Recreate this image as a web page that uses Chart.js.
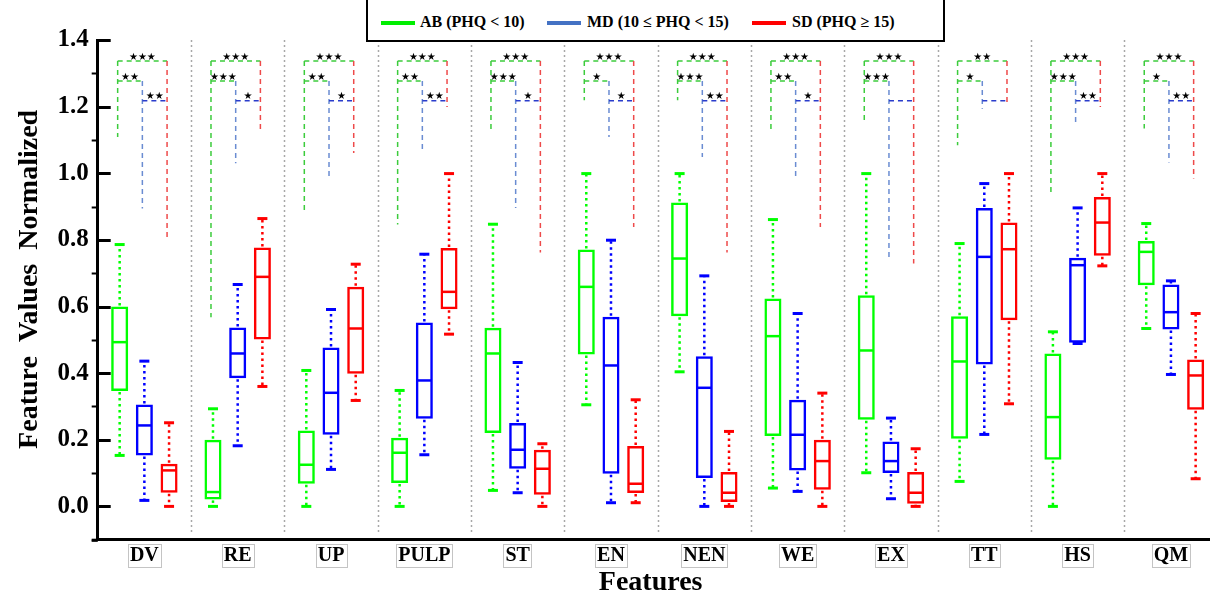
<!DOCTYPE html>
<html><head><meta charset="utf-8">
<script src="https://cdn.jsdelivr.net/npm/chart.js@4.4.1/dist/chart.umd.min.js"></script>
<style>
html,body{margin:0;padding:0;overflow:hidden;background:#fff;}
#wrap{position:relative;width:1230px;height:600px;}
#legend{position:absolute;left:366px;top:-3px;width:579px;height:45px;border:2.5px solid #000;box-sizing:border-box;background:#fff;font-family:"Liberation Serif",serif;font-weight:bold;font-size:16px;color:#000;}
#legend .ln{position:absolute;top:22px;height:4px;width:34px;}
#legend .tx{position:absolute;top:13px;white-space:nowrap;line-height:20px;}
</style></head><body>
<div id="wrap"><canvas id="c"></canvas>
<div id="legend">
<div class="ln" style="left:13px;background:#00ee00"></div><div class="tx" style="left:52px">AB (PHQ &lt; 10)</div>
<div class="ln" style="left:179px;background:#4472c4"></div><div class="tx" style="left:219px">MD (10 ≤ PHQ &lt; 15)</div>
<div class="ln" style="left:384px;background:#ff0000"></div><div class="tx" style="left:424px">SD (PHQ ≥ 15)</div>
</div></div>
<script>
const categories = ['DV','RE','UP','PULP','ST','EN','NEN','WE','EX','TT','HS','QM'];
const seriesLabels = ['AB (PHQ < 10)','MD (10 ≤ PHQ < 15)','SD (PHQ ≥ 15)'];
// AB group
const abMin = [0.153,0.000,0.000,0.000,0.048,0.305,0.404,0.055,0.101,0.075,0.000,0.534];
const abQ1  = [0.346,0.021,0.068,0.070,0.220,0.456,0.571,0.211,0.260,0.203,0.140,0.664];
const abMed = [0.493,0.043,0.125,0.161,0.459,0.659,0.744,0.511,0.468,0.435,0.268,0.764];
const abQ3  = [0.600,0.200,0.228,0.206,0.536,0.771,0.912,0.624,0.634,0.571,0.459,0.797];
const abMax = [0.786,0.293,0.408,0.348,0.847,0.999,0.999,0.861,0.999,0.789,0.524,0.849];
// MD group
const mdMin = [0.018,0.182,0.111,0.155,0.041,0.011,0.000,0.045,0.023,0.216,0.489,0.396];
const mdQ1  = [0.153,0.385,0.215,0.263,0.113,0.098,0.085,0.108,0.100,0.426,0.491,0.531];
const mdMed = [0.243,0.459,0.341,0.378,0.170,0.423,0.356,0.215,0.136,0.749,0.724,0.583];
const mdQ3  = [0.306,0.537,0.477,0.552,0.250,0.569,0.451,0.320,0.195,0.896,0.746,0.666];
const mdMax = [0.436,0.666,0.591,0.757,0.432,0.799,0.692,0.579,0.265,0.969,0.896,0.677];
// SD group
const sdMin = [0.000,0.360,0.318,0.517,0.000,0.011,0.000,0.000,0.000,0.308,0.722,0.083];
const sdQ1  = [0.041,0.501,0.398,0.592,0.035,0.040,0.013,0.050,0.008,0.559,0.752,0.290];
const sdMed = [0.108,0.689,0.534,0.644,0.113,0.068,0.041,0.136,0.041,0.772,0.852,0.393];
const sdQ3  = [0.128,0.777,0.659,0.776,0.170,0.181,0.103,0.200,0.103,0.852,0.929,0.441];
const sdMax = [0.251,0.864,0.727,0.999,0.188,0.320,0.225,0.340,0.173,0.999,0.999,0.579];
// significance brackets: levels and lower ends of legs
const bracketLevels = [1.337,1.277,1.218];
const legEndAB = [1.109,0.568,0.881,0.846,1.131,1.219,1.219,1.131,1.156,1.084,0.937,1.134];
const legEndMD = [0.894,1.030,0.984,1.069,0.896,1.109,1.049,0.984,0.746,1.194,1.154,1.032];
const legEndSD = [0.800,1.124,1.061,1.199,0.762,0.839,0.762,0.839,0.729,1.204,1.199,0.984];
const sigABvsSD = ['***','***','***','***','***','***','***','***','***','**','***','***'];
const sigABvsMD = ['**','***','**','**','***','*','***','**','***','*','***','*'];
const sigMDvsSD = ['**','*','*','**','*','*','**','*','','','**','**'];
const yTickLabels = ['0.0','0.2','0.4','0.6','0.8','1.0','1.2','1.4'];

const colors = ['#00ff00','#0000ff','#ff0000'];
const stats = [
  {min:abMin,q1:abQ1,med:abMed,q3:abQ3,max:abMax},
  {min:mdMin,q1:mdQ1,med:mdMed,q3:mdQ3,max:mdMax},
  {min:sdMin,q1:sdQ1,med:sdMed,q3:sdQ3,max:sdMax}
];
const serif = '"Liberation Serif", "Times New Roman", serif';

const decor = {
  id:'decor',
  beforeDatasetsDraw(chart){
    const {ctx, scales:{x,y}} = chart;
    ctx.save();
    // category separators
    ctx.strokeStyle='#a8a8a8'; ctx.lineWidth=1.5; ctx.setLineDash([2,3]);
    for(let i=1;i<=categories.length;i++){
      const px=Math.round(x.getPixelForValue(i-0.5))+0.5;
      ctx.beginPath(); ctx.moveTo(px,y.getPixelForValue(1.4)); ctx.lineTo(px,y.getPixelForValue(-0.08)); ctx.stroke();
    }
    // brackets
    ctx.lineWidth=1.5; ctx.setLineDash([5,4]);
    const m0=chart.getDatasetMeta(0), m1=chart.getDatasetMeta(1), m2=chart.getDatasetMeta(2);
    const yT=y.getPixelForValue(bracketLevels[0]), yM=y.getPixelForValue(bracketLevels[1]), yB=y.getPixelForValue(bracketLevels[2]);
    const seg=(c,x1,y1,x2,y2)=>{ctx.strokeStyle=c;ctx.beginPath();ctx.moveTo(x1,y1);ctx.lineTo(x2,y2);ctx.stroke();};
    for(let i=0;i<categories.length;i++){
      const gx=m0.data[i].x-2, bx=m1.data[i].x-2, rx=m2.data[i].x-2;
      seg('#3ccc3c',gx,yT,rx,yT);
      seg('#3ccc3c',gx,yT,gx,y.getPixelForValue(legEndAB[i]));
      seg('#3ccc3c',gx,yM,bx,yM);
      seg('#ee4a4a',rx,yT,rx,y.getPixelForValue(legEndSD[i]));
      seg('#6a8cd2',bx,yM,bx,y.getPixelForValue(legEndMD[i]));
      seg('#2a3ccc',bx,yB,rx,yB);
    }
    ctx.setLineDash([]);
    ctx.fillStyle='#000'; ctx.font='10px "DejaVu Sans"'; ctx.textAlign='center'; ctx.textBaseline='middle';
    const star=s=>s.replace(/\*/g,'★');
    for(let i=0;i<categories.length;i++){
      const gx=m0.data[i].x-2, bx=m1.data[i].x-2, rx=m2.data[i].x-2;
      ctx.fillText(star(sigABvsSD[i]),(gx+rx)/2,yT-4);
      ctx.fillText(star(sigABvsMD[i]),(gx+bx)/2,yM-4);
      ctx.fillText(star(sigMDvsSD[i]),(bx+rx)/2,yB-4);
    }
    ctx.restore();
  },
  afterDatasetsDraw(chart){
    const {ctx, scales:{y}} = chart;
    ctx.save();
    stats.forEach((s,d)=>{
      const meta=chart.getDatasetMeta(d);
      ctx.strokeStyle=colors[d];
      meta.data.forEach((el,i)=>{
        const cx=el.x, w=el.width;
        const pMed=y.getPixelForValue(s.med[i]), pQ1=y.getPixelForValue(s.q1[i]), pQ3=y.getPixelForValue(s.q3[i]);
        const pMin=y.getPixelForValue(s.min[i]), pMax=y.getPixelForValue(s.max[i]);
        ctx.setLineDash([]); ctx.lineWidth=2.5;
        ctx.beginPath(); ctx.moveTo(cx-w/2+1,pMed); ctx.lineTo(cx+w/2-1,pMed); ctx.stroke();
        ctx.setLineDash([2.5,3.5]); ctx.lineWidth=2.5;
        ctx.beginPath(); ctx.moveTo(cx,pQ3-1); ctx.lineTo(cx,pMax); ctx.stroke();
        ctx.beginPath(); ctx.moveTo(cx,pQ1+1); ctx.lineTo(cx,pMin); ctx.stroke();
        ctx.setLineDash([]); ctx.lineWidth=3;
        ctx.beginPath(); ctx.moveTo(cx-5,pMax); ctx.lineTo(cx+5,pMax); ctx.stroke();
        ctx.beginPath(); ctx.moveTo(cx-5,pMin); ctx.lineTo(cx+5,pMin); ctx.stroke();
      });
    });
    ctx.restore();
  },
  afterDraw(chart){
    const {ctx, chartArea, scales:{x,y}} = chart;
    ctx.save();
    const ax=chartArea.left;
    ctx.strokeStyle='#000';
    for(let k=-1;k<=14;k++){
      const py=Math.round(y.getPixelForValue(k/10))+0.5;
      ctx.beginPath();
      if(k%2===0){ctx.lineWidth=3; ctx.moveTo(ax,py); ctx.lineTo(ax+13,py);}
      else {ctx.lineWidth=2; ctx.moveTo(ax-6,py); ctx.lineTo(ax,py);}
      ctx.stroke();
    }
    // extend x axis line slightly left
    ctx.lineWidth=3; ctx.beginPath(); ctx.moveTo(ax-6,chartArea.bottom+0.5); ctx.lineTo(ax,chartArea.bottom+0.5); ctx.stroke();
    // boxes around x tick labels
    ctx.font='bold 20px '+serif; ctx.strokeStyle='#c4c4c4'; ctx.lineWidth=1;
    const cy=chartArea.bottom+4+12;
    categories.forEach((c,i)=>{
      const px=x.getPixelForTick(i); const w=ctx.measureText(c).width;
      ctx.strokeRect(Math.round(px-w/2-2)+0.5, Math.round(cy-11.5)+0.5, Math.round(w+4), 23);
    });
    ctx.restore();
  }
};

new Chart(document.getElementById('c'),{
  type:'bar',
  data:{
    labels:categories,
    datasets:stats.map((s,d)=>({
      label:seriesLabels[d],
      data:s.q1.map((v,i)=>[v,s.q3[i]]),
      backgroundColor:'rgba(255,255,255,0)',
      borderColor:colors[d], borderWidth:2.5, borderSkipped:false,
      categoryPercentage:0.794, barPercentage:0.69
    }))
  },
  options:{
    responsive:true, maintainAspectRatio:false, animation:false,
    layout:{padding:{top:40,right:12.4,bottom:0,left:0}},
    plugins:{legend:{display:false},tooltip:{enabled:false}},
    scales:{
      x:{type:'category',offset:true,
        afterFit(s){s.height=60.3;},
        grid:{display:false,drawTicks:false},
        border:{display:true,color:'#000',width:3},
        ticks:{padding:4,color:'#000',maxRotation:0,autoSkip:false,font:{family:serif,weight:'bold',size:20,lineHeight:1.2}},
        title:{display:true,text:'Features  ',color:'#000',font:{family:serif,weight:'bold',size:28,lineHeight:1.2},padding:{top:0,bottom:0}}
      },
      y:{min:-0.1,max:1.4,
        afterFit(s){s.width=97.7;},
        grid:{display:false,drawTicks:false},
        border:{display:true,color:'#000',width:3},
        ticks:{stepSize:0.1,maxTicksLimit:20,autoSkip:false,padding:9,color:'#000',font:{family:serif,weight:'bold',size:25,lineHeight:1.2},
          callback(v){const k=Math.round(v*10); return (k>=0&&k%2===0)? yTickLabels[k/2] : '';}},
        title:{display:true,text:'   Feature  Values  Normalized',color:'#000',font:{family:serif,weight:'bold',size:28,lineHeight:1.2},padding:{top:13,bottom:0}}
      }
    }
  },
  plugins:[decor]
});
</script>
</body></html>
